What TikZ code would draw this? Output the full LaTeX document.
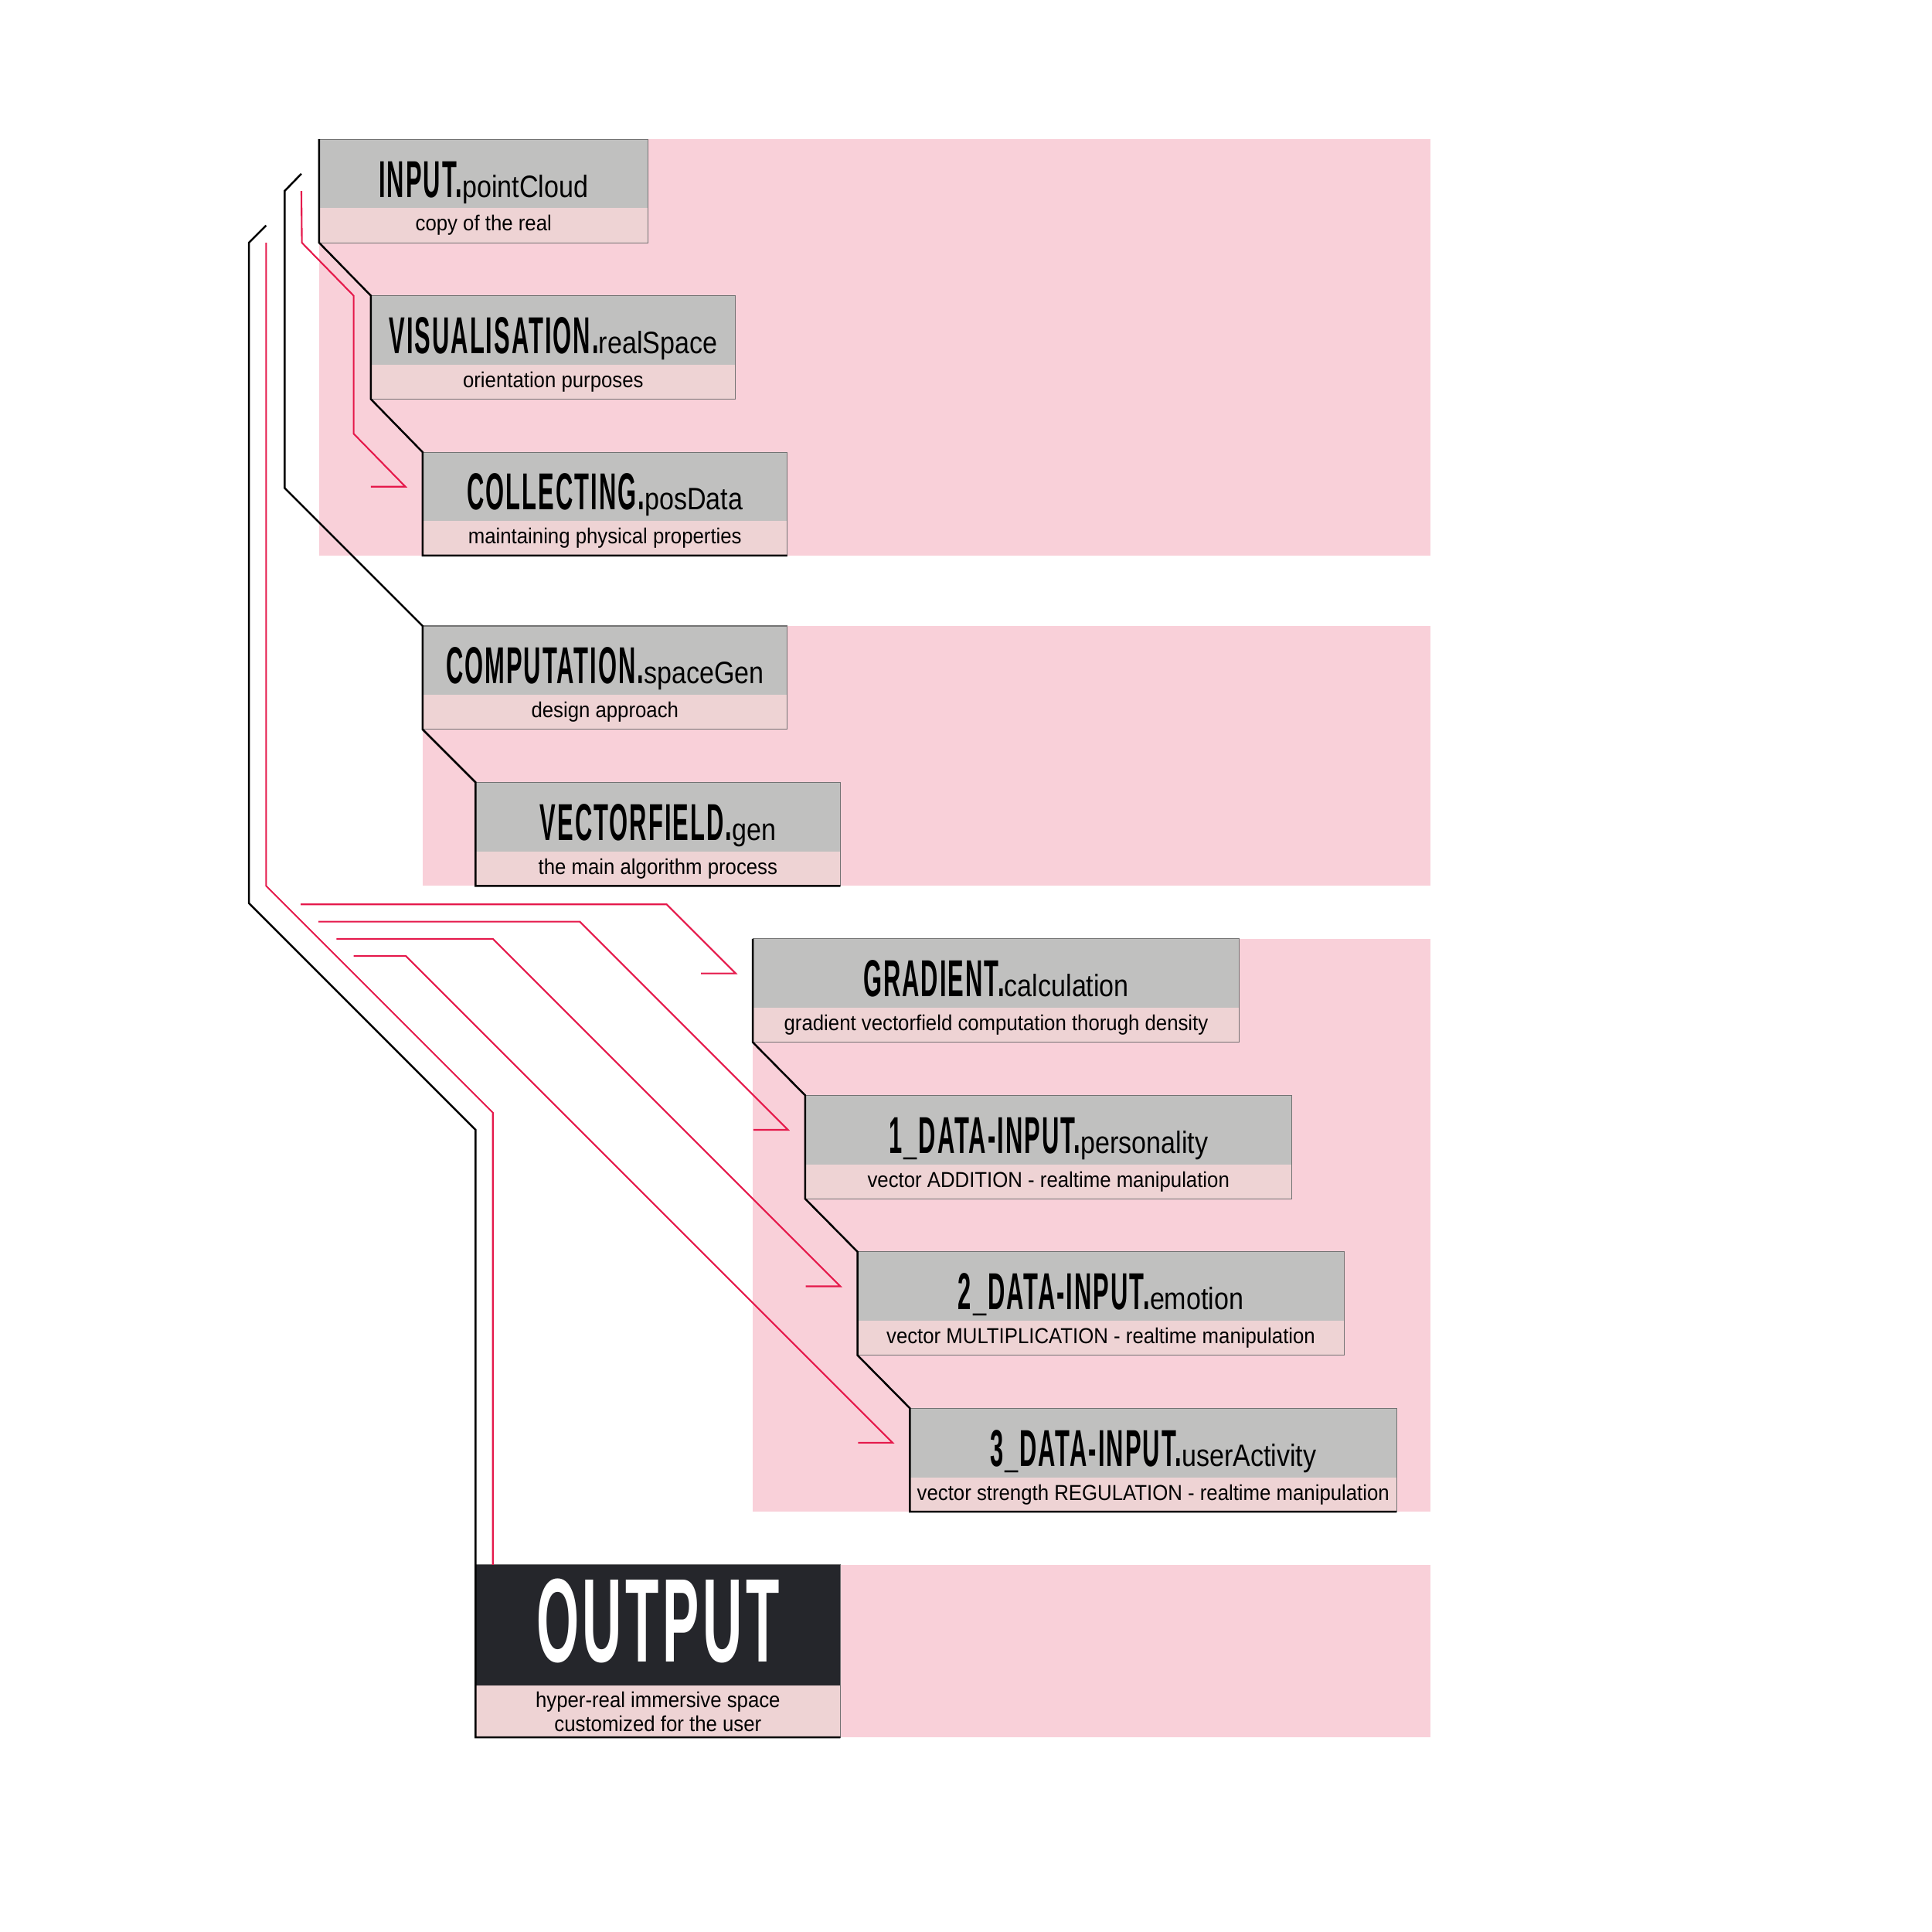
\documentclass[tikz,border=0pt]{standalone}
\usepackage{fontspec}
\setmainfont{Liberation Sans}
\newfontfamily\headfont[FakeStretch=0.46, LetterSpace=3]{Liberation Sans}
\newfontfamily\tagfont[FakeStretch=0.85]{Liberation Sans}
\newfontfamily\notefont[FakeStretch=0.92]{Liberation Sans}
\usepackage{tikz}
\usetikzlibrary{calc,positioning,backgrounds}
\usepackage{xcolor}
\definecolor{bandpink}{HTML}{F9D0D9}
\definecolor{notepink}{HTML}{EED3D4}
\definecolor{boxgray}{HTML}{C0C0BF}
\definecolor{feedred}{HTML}{E5194B}
\definecolor{outdark}{HTML}{25262B}

\newcommand{\stagetxt}[2]{{\headfont\bfseries\fontsize{24}{26}\selectfont #1.}{\tagfont\fontsize{14.3}{16}\selectfont #2}}

\begin{document}
\begin{tikzpicture}[x=0.02cm, y=-0.02cm,
  headbox/.style={anchor=north west, fill=boxgray, inner sep=0pt, outer sep=0pt,
    minimum height=1.12cm, text height=24pt, text depth=2.4pt},
  notebox/.style={fill=notepink, inner sep=0pt, outer sep=0pt, minimum height=0.56cm,
    font=\notefont\fontsize{10}{11}\selectfont},
  rim/.style={draw=gray!90!black, line width=0.4pt},
  chain/.style={black, line width=0.9pt},
  feed/.style={feedred, line width=0.75pt}]

\useasboundingbox (0,0) rectangle (1568,1568);

% Group 1: input and collecting
\node[headbox, minimum width=5.34cm] (t1) at (259,113) {\stagetxt{INPUT}{pointCloud}};
\node[notebox, minimum width=5.34cm, below=0pt of t1] (d1) {copy of the real};
\node[headbox, minimum width=5.92cm, below right=0.86cm and 0.84cm of d1.south west] (t2) {\stagetxt{VISUALISATION}{realSpace}};
\node[notebox, minimum width=5.92cm, below=0pt of t2] (d2) {orientation purposes};
\node[headbox, minimum width=5.92cm, below right=0.86cm and 0.84cm of d2.south west] (t3) {\stagetxt{COLLECTING}{posData}};
\node[notebox, minimum width=5.92cm, below=0pt of t3] (d3) {maintaining physical properties};

% Group 2: computation
\node[headbox, minimum width=5.92cm] (t4) at (343,508) {\stagetxt{COMPUTATION}{spaceGen}};
\node[notebox, minimum width=5.92cm, below=0pt of t4] (d4) {design approach};
\node[headbox, minimum width=5.92cm, below right=0.86cm and 0.86cm of d4.south west] (t5) {\stagetxt{VECTORFIELD}{gen}};
\node[notebox, minimum width=5.92cm, below=0pt of t5] (d5) {the main algorithm process};

% Group 3: gradient and data inputs
\node[headbox, minimum width=7.9cm] (t6) at (611,762) {\stagetxt{GRADIENT}{calculation}};
\node[notebox, minimum width=7.9cm, below=0pt of t6] (d6) {gradient vectorfield computation thorugh density};
\node[headbox, minimum width=7.9cm, below right=0.86cm and 0.85cm of d6.south west] (t7) {\stagetxt{1\_DATA-INPUT}{personality}};
\node[notebox, minimum width=7.9cm, below=0pt of t7] (d7) {vector ADDITION - realtime manipulation};
\node[headbox, minimum width=7.9cm, below right=0.86cm and 0.85cm of d7.south west] (t8) {\stagetxt{2\_DATA-INPUT}{emotion}};
\node[notebox, minimum width=7.9cm, below=0pt of t8] (d8) {vector MULTIPLICATION - realtime manipulation};
\node[headbox, minimum width=7.9cm, below right=0.86cm and 0.85cm of d8.south west] (t9) {\stagetxt{3\_DATA-INPUT}{userActivity}};
\node[notebox, minimum width=7.9cm, below=0pt of t9] (d9) {vector strength REGULATION - realtime manipulation};

% Group 4: output
\node[headbox, fill=outdark, text=white, minimum width=5.92cm, minimum height=1.96cm,
  text height=38pt, text depth=4pt] (t10) at (386,1270)
  {\headfont\bfseries\fontsize{55}{58}\selectfont OUTPUT};
\node[notebox, minimum width=5.92cm, minimum height=0.84cm, below=0pt of t10, align=center] (d10)
  {hyper-real immersive space\\customized for the user};

% pink bands behind the groups
\begin{scope}[on background layer]
\coordinate (edge) at (1161,0);
\fill[bandpink] (t1.north west) rectangle (edge |- d3.south);
\fill[bandpink] (t4.north west) rectangle (edge |- d5.south);
\fill[bandpink] (t6.north west) rectangle (edge |- d9.south);
\fill[bandpink] (t10.north west) rectangle (edge |- d10.south);
\end{scope}

\foreach \i in {1,...,10}
  \draw[rim] (t\i.north west) rectangle (d\i.south east);

% black stair lines
\draw[chain] (t1.north west) -- (d1.south west) -- (t2.north west) -- (d2.south west)
  -- (t3.north west) -- (d3.south west) -- (d3.south east);
\coordinate (a0) at (244.6,141);
\coordinate (a1) at (231,155);
\draw[chain] (a0) -- (a1) -- ($(t4.north west)+(-112,-112)$) -- (t4.north west) -- (d4.south west)
  -- (t5.north west) -- (d5.south west) -- (d5.south east);
\draw[chain] (t6.north west) -- (d6.south west) -- (t7.north west) -- (d7.south west)
  -- (t8.north west) -- (d8.south west) -- (t9.north west) -- (d9.south west) -- (d9.south east);
\coordinate (b0) at (216,183);
\coordinate (b1) at (202,197);
\draw[chain] (b0) -- (b1) -- ($(t10.north west)+(-184,-537)$) -- ($(t10.north west)+(0,-353)$)
  -- (t10.north west) -- (d10.south west) -- (d10.south east);

% red feed lines
\coordinate (c0) at (244.6,155);
\draw[feed] (c0) -- ($(d1.south west)+(-14,0)$) -- ($(t2.north west)+(-14,0)$)
  -- ($(d2.south west)+(-14,28)$) -- ($(t3.north west)+(-14,28)$) -- ++(-28,0);
\coordinate (r0) at (216,197);
\draw[feed] (r0) -- ($(t10.north west)+(-170,-551)$) -- ($(t10.north west)+(14,-367)$)
  -- ($(t10.north west)+(14,0)$);
\foreach \i/\off/\sx in {6/56/244, 7/169/258.5, 8/282/273, 9/395/287}{
  \coordinate (bend) at ($(t\i.north west)+(-14-\off,28-\off)$);
  \coordinate (x\i) at (\sx,0);
  \coordinate (s\i) at (bend -| x\i);
  \draw[feed] (s\i) -- (bend) -- ($(t\i.north west)+(-14,28)$) -- ++(-28,0);
}

\end{tikzpicture}
\end{document}
